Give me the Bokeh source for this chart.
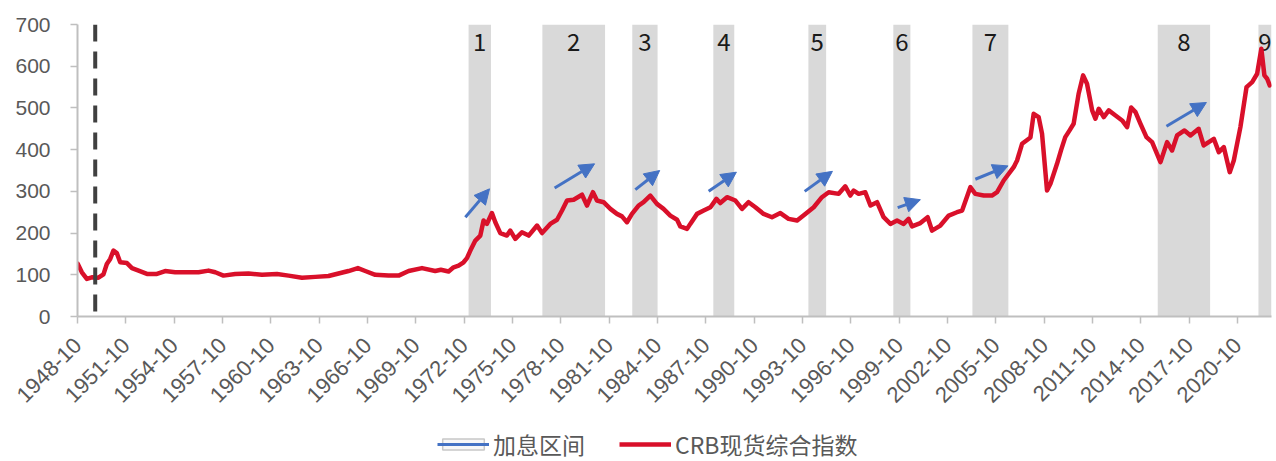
import math
from bokeh.plotting import figure
from bokeh.layouts import column
from bokeh.models import (ColumnDataSource, FixedTicker, Arrow, NormalHead,
                          Legend, LegendItem, Span)
from bokeh.core.properties import value
from bokeh.embed import file_html
from bokeh.resources import INLINE

# ---------------- data (decimal years: year + (month-1)/12) ----------------
crb_time = [
    1948.77, 1949.02, 1949.33, 1949.64, 1950.05, 1950.36, 1950.57, 1950.78, 1950.98, 1951.19,
    1951.40, 1951.82, 1952.13, 1952.54, 1953.06, 1953.68, 1954.19, 1954.81, 1955.64, 1956.26,
    1956.88, 1957.30, 1957.81, 1958.54, 1959.36, 1960.20, 1961.13, 1961.85, 1962.68, 1963.51,
    1964.33, 1964.95, 1965.57, 1966.15, 1966.61, 1967.23, 1968.05, 1968.68, 1969.30, 1970.13,
    1970.95, 1971.30, 1971.78, 1972.09, 1972.40, 1972.71, 1972.92, 1973.13, 1973.44, 1973.75,
    1973.95, 1974.16, 1974.47, 1974.68, 1974.99, 1975.40, 1975.61, 1975.92, 1976.33, 1976.75,
    1977.27, 1977.58, 1978.09, 1978.51, 1978.82, 1979.13, 1979.54, 1980.06, 1980.37, 1980.74,
    1980.99, 1981.40, 1981.82, 1982.23, 1982.54, 1982.85, 1983.16, 1983.57, 1983.88, 1984.30,
    1984.71, 1985.12, 1985.54, 1985.96, 1986.16, 1986.58, 1986.78, 1987.20, 1987.61, 1988.03,
    1988.40, 1988.64, 1989.06, 1989.58, 1989.99, 1990.40, 1990.82, 1991.33, 1991.85, 1992.37,
    1992.88, 1993.41, 1993.92, 1994.44, 1994.95, 1995.37, 1995.99, 1996.40, 1996.71, 1996.92,
    1997.23, 1997.64, 1997.96, 1998.37, 1998.78, 1999.20, 1999.61, 2000.02, 2000.33, 2000.54,
    2001.06, 2001.51, 2001.78, 2002.30, 2002.82, 2003.33, 2003.65, 2004.16, 2004.47, 2004.99,
    2005.50, 2005.82, 2006.23, 2006.85, 2007.06, 2007.37, 2007.89, 2008.09, 2008.40, 2008.61,
    2008.92, 2009.13, 2009.54, 2009.80, 2010.05, 2010.30, 2010.57, 2010.88, 2011.16, 2011.40,
    2011.72, 2011.92, 2012.13, 2012.44, 2012.75, 2013.17, 2013.58, 2013.89, 2014.14, 2014.41,
    2014.72, 2015.09, 2015.44, 2015.96, 2016.37, 2016.68, 2016.99, 2017.45, 2017.82, 2018.33,
    2018.64, 2019.27, 2019.58, 2019.89, 2020.26, 2020.51, 2020.92, 2021.30, 2021.65, 2021.96,
    2022.22, 2022.41, 2022.58, 2022.74,
]
crb_value = [
    126, 106, 90, 94, 93, 101, 126, 138, 158, 152,
    130, 128, 116, 110, 102, 102, 109, 106, 106, 106,
    110, 106, 98, 102, 103, 100, 102, 98, 93, 95,
    97, 103, 109, 116, 109, 100, 98, 98, 109, 116,
    109, 112, 108, 118, 122, 130, 140, 158, 182, 194,
    230, 222, 248, 226, 200, 194, 206, 186, 202, 194,
    218, 200, 222, 232, 254, 278, 280, 292, 266, 298,
    278, 274, 258, 246, 240, 226, 246, 266, 274, 290,
    270, 258, 242, 232, 216, 210, 222, 246, 254, 262,
    282, 272, 286, 278, 258, 274, 262, 246, 238, 248,
    234, 230, 246, 262, 286, 298, 294, 312, 290, 302,
    294, 298, 266, 274, 238, 222, 230, 222, 234, 216,
    224, 238, 206, 218, 242, 250, 254, 310, 294, 290,
    290, 298, 326, 358, 374, 414, 429, 486, 478, 438,
    302, 318, 366, 400, 430, 445, 462, 534, 578, 558,
    494, 474, 498, 478, 494, 482, 470, 454, 501, 490,
    462, 430, 418, 370, 418, 398, 434, 446, 434, 450,
    410, 426, 394, 406, 346, 374, 454, 550, 562, 582,
    642, 578, 570, 554,
]

hike_start = [1973.02, 1977.60, 1983.18, 1988.21, 1994.11, 1999.38, 2004.29, 2015.79, 2022.04]
hike_end = [1974.41, 1981.49, 1984.75, 1989.51, 1995.21, 2000.44, 2006.52, 2019.04, 2022.85]
hike_labels = ["1", "2", "3", "4", "5", "6", "7", "8", "9"]

arrow_t0 = [1972.82, 1978.36, 1983.37, 1987.92, 1993.88, 1999.65, 2004.47, 2016.33]
arrow_v0 = [238, 308, 304, 300, 300, 261, 329, 456]
arrow_t1 = [1974.32, 1980.84, 1984.88, 1989.64, 1995.60, 2001.06, 2006.50, 2018.81]
arrow_v1 = [306, 366, 350, 346, 348, 280, 361, 513]

tick_years = list(range(1948, 2021, 3))
tick_labels = [f"{y}-10" for y in tick_years]
y_ticks = [0, 100, 200, 300, 400, 500, 600, 700]
marker_time = 1949.85

# ---------------- main figure ----------------
X0, X1 = 1948.75, 2022.85
AX = "#bfbfbf"
TXT = "#595959"
FONT = "Liberation Sans"
RED = "#d9102a"
BLUE = "#4472c4"

p = figure(width=1276, height=423, x_range=(X0, X1), y_range=(0, 700),
           output_backend="svg", toolbar_location=None,
           min_border_left=77, min_border_right=5, min_border_top=24,
           min_border_bottom=107)
p.outline_line_color = None
p.xgrid.visible = False
p.ygrid.visible = False

# bands
p.quad(left=hike_start, right=hike_end, bottom=0, top=700,
       fill_color="#d9d9d9", line_color=None)

# band labels
mid = [(a + b) / 2 for a, b in zip(hike_start, hike_end)]
p.text(x=mid, y=[659] * len(mid), text=hike_labels, text_align="center",
       text_baseline="middle", text_font=value("Noto Sans CJK SC"),
       text_font_size="24px", text_color="#1a1a1a")

# dashed marker
p.add_layout(Span(location=marker_time, dimension="height", line_color="#404040",
                  line_width=4, line_dash="17 10"))

# CRB line
p.line(crb_time, crb_value, line_color=RED, line_width=4.5,
       line_join="round", line_cap="round")

# arrows
asrc = ColumnDataSource(dict(x0=arrow_t0, y0=arrow_v0, x1=arrow_t1, y1=arrow_v1))
p.add_layout(Arrow(source=asrc, x_start="x0", y_start="y0", x_end="x1", y_end="y1",
                   line_color=BLUE, line_width=3,
                   end=NormalHead(size=15, fill_color=BLUE, line_color=BLUE)))

# axes
xa = p.xaxis[0]
xa.ticker = FixedTicker(ticks=[y + 0.75 for y in tick_years])
xa.major_label_overrides = {y + 0.75: lab for y, lab in zip(tick_years, tick_labels)}
xa.major_label_orientation = math.pi / 4
xa.axis_line_color = AX
xa.axis_line_width = 2
xa.major_tick_line_color = AX
xa.major_tick_line_width = 1.5
xa.major_tick_out = 7
xa.major_tick_in = 0
xa.minor_tick_line_color = None
xa.major_label_text_font = FONT
xa.major_label_text_font_size = "22px"
xa.major_label_text_color = TXT
xa.major_label_standoff = 18

ya = p.yaxis[0]
ya.ticker = FixedTicker(ticks=y_ticks)
ya.axis_line_color = AX
ya.axis_line_width = 2
ya.major_tick_line_color = AX
ya.major_tick_line_width = 1.5
ya.major_tick_out = 7
ya.major_tick_in = 0
ya.minor_tick_line_color = None
ya.major_label_text_font = FONT
ya.major_label_text_font_size = "21px"
ya.major_label_text_color = TXT
ya.major_label_standoff = 20

# ---------------- legend strip ----------------
lg = figure(width=1276, height=38, x_range=(0, 1), y_range=(0, 1),
            output_backend="svg", toolbar_location=None,
            x_axis_type=None, y_axis_type=None, min_border=0)
lg.outline_line_color = None
lg.xgrid.visible = False
lg.ygrid.visible = False
# legend proxies, placed outside the visible range of the strip
d_box = lg.quad(left=[-5], right=[-4], bottom=[-5], top=[-4], fill_color="#f7f7f7",
                line_color="#c8c8c8", line_width=1.5)
d_arr = lg.segment(x0=[-5], y0=[-5], x1=[-4], y1=[-4], line_color=BLUE, line_width=3)
d_line = lg.line(x=[-5, -4], y=[-5, -4], line_color=RED, line_width=4.5)

legend = Legend(items=[LegendItem(label="加息区间", renderers=[d_box, d_arr]),
                       LegendItem(label="CRB现货综合指数", renderers=[d_line])],
                orientation="horizontal", location=(360, 0),
                label_text_font="Noto Sans CJK SC", label_text_font_size="23px",
                label_text_color=TXT, glyph_width=52, glyph_height=14,
                spacing=34, label_standoff=4, padding=0, margin=0,
                border_line_color=None, background_fill_alpha=0)
lg.add_layout(legend)

page = column(p, lg, spacing=0)
open("out.html", "w").write(file_html(page, INLINE))
